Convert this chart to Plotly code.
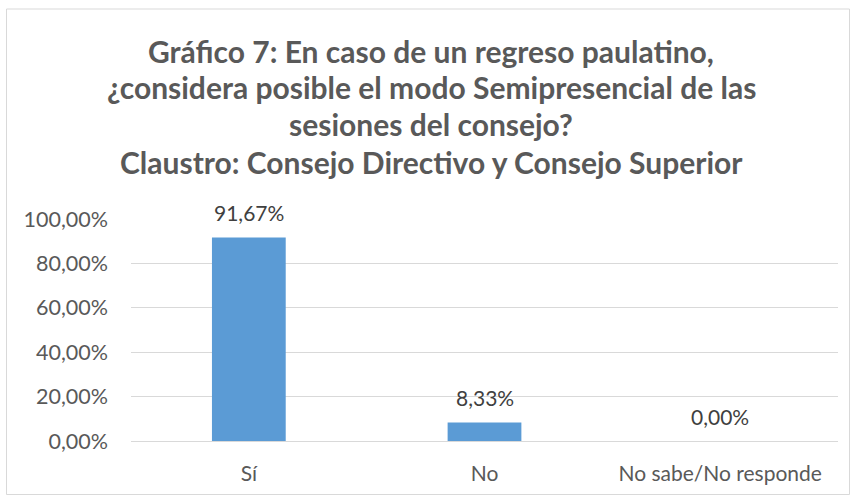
import plotly.graph_objects as go

categories = ["Sí", "No", "No sabe/No responde"]
values = [0.9167, 0.0833, 0.0]
tick_vals = [0, 0.2, 0.4, 0.6, 0.8, 1.0]
tick_text = ["0,00%", "20,00%", "40,00%", "60,00%", "80,00%", "100,00%"]
title_lines = [
    "Gráfico 7: En caso de un regreso paulatino,",
    "¿considera posible el modo Semipresencial de las",
    "sesiones del consejo?",
    "Claustro: Consejo Directivo y Consejo Superior",
]

W, H = 855, 497
L, R, T, B = 131, 17, 219, 56
PW, PH = W - L - R, H - T - B

def px_x(px):
    return (px - L) / PW

def px_y(py):
    return (H - B - py) / PH

FONT = "Lato"
TXT = "#595959"

fig = go.Figure()
fig.add_trace(go.Bar(
    x=categories, y=values,
    marker=dict(color="#5B9BD5", line=dict(width=0)),
    hoverinfo="skip",
))

annotations = []
for c, v in zip(categories, values):
    annotations.append(dict(
        x=c, y=v, xref="x", yref="y",
        text=f"{v*100:.2f}%".replace(".", ","),
        showarrow=False, yanchor="middle", yshift=25,
        font=dict(family=FONT, size=21, color="#404040"),
    ))

title_y = [51, 87, 123.5, 162]
for line, cy in zip(title_lines, title_y):
    annotations.append(dict(
        x=px_x(431), y=px_y(cy), xref="paper", yref="paper",
        text=f"<b>{line}</b>", showarrow=False,
        xanchor="center", yanchor="middle",
        font=dict(family=FONT, size=30, color=TXT),
    ))

fig.update_layout(
    width=W, height=H,
    margin=dict(l=L, r=R, t=T, b=B, pad=0),
    paper_bgcolor="white", plot_bgcolor="white",
    showlegend=False,
    bargap=0.687,
    font=dict(family=FONT, size=21, color=TXT),
    annotations=annotations,
    shapes=[dict(
        type="rect", xref="paper", yref="paper",
        x0=px_x(6.5), x1=px_x(849.5), y0=px_y(9), y1=px_y(494.5),
        line=dict(color="#D9D9D9", width=1), fillcolor="rgba(0,0,0,0)",
        layer="below",
    )],
    xaxis=dict(
        showgrid=False, showline=False, zeroline=False,
        ticks="", tickfont=dict(family=FONT, size=21, color=TXT),
        ticklabelstandoff=18,
    ),
    yaxis=dict(
        range=[0, 1], tickvals=tick_vals, ticktext=tick_text,
        showgrid=True, gridcolor="#D9D9D9", gridwidth=1,
        zeroline=True, zerolinecolor="#D9D9D9", zerolinewidth=1,
        showline=False, ticks="",
        tickfont=dict(family=FONT, size=21.5, color=TXT),
        ticklabelstandoff=22,
    ),
)

fig.write_html(
    "out.html",
    config={"displayModeBar": False},
    post_script="document.body.style.margin='0';document.body.style.padding='0';",
)
